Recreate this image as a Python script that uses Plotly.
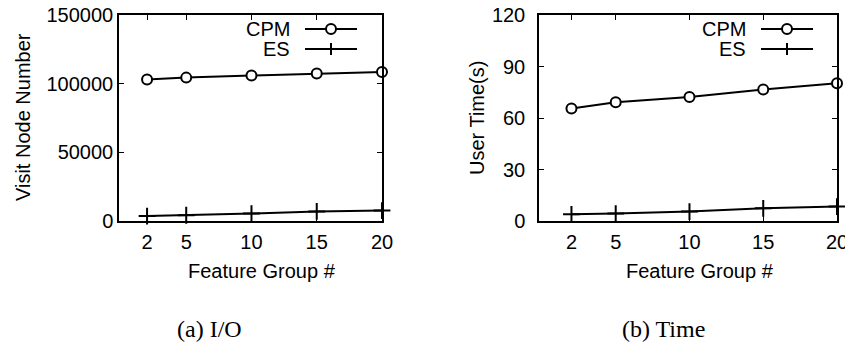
import plotly.graph_objects as go

# The page body has an 8px margin, so the figure is placed at (8, 8) in the window.
OFF = 8
W, H = 853 - OFF, 344 - OFF

feature_groups = [2, 5, 10, 15, 20]
io_cpm = [102960, 104400, 105870, 107330, 108500]
io_es = [3600, 4200, 5400, 7000, 7600]
time_cpm = [65.6, 69.2, 72.3, 76.6, 80.3]
time_es = [3.9, 4.3, 5.5, 7.4, 8.4]

x_ticks = [2, 5, 10, 15, 20]
io_yticks = [0, 50000, 100000, 150000]
time_yticks = [0, 30, 60, 90, 120]

FONT = "Liberation Sans"
FS = 20


def px(x):
    return (x - OFF) / W


def py(y):
    return 1 - (y - OFF) / H


fig = go.Figure()

circle_marker = dict(symbol="circle", size=10, color="white",
                     line=dict(color="black", width=2))
plus_marker = dict(symbol="cross-thin", size=12,
                   line=dict(color="black", width=2), color="black")

for xa, ya, cpm, es in [("x", "y", io_cpm, io_es), ("x2", "y2", time_cpm, time_es)]:
    fig.add_trace(go.Scatter(x=feature_groups, y=es, mode="lines+markers",
                             line=dict(color="black", width=2), marker=plus_marker,
                             xaxis=xa, yaxis=ya, cliponaxis=False, showlegend=False))
    fig.add_trace(go.Scatter(x=feature_groups, y=cpm, mode="lines+markers",
                             line=dict(color="black", width=2), marker=circle_marker,
                             xaxis=xa, yaxis=ya, cliponaxis=False, showlegend=False))

axis_common = dict(showline=True, linecolor="black", linewidth=1.5, mirror="allticks",
                   ticks="inside", ticklen=5, tickcolor="black", tickwidth=1,
                   showgrid=False, zeroline=False, automargin=False, tickformat="d",
                   ticklabeloverflow="allow",
                   tickfont=dict(family=FONT, size=FS, color="black"))

fig.update_layout(
    width=W, height=H, margin=dict(l=0, r=0, t=0, b=0, autoexpand=False),
    paper_bgcolor="white", plot_bgcolor="white",
    xaxis=dict(domain=[px(119), px(382)], range=[-0.15, 20], tickvals=x_ticks,
               ticklabelstandoff=2, anchor="y", **axis_common),
    yaxis=dict(domain=[py(221), py(15)], range=[0, 150000], tickvals=io_yticks,
               ticklabelstandoff=0, anchor="x", **axis_common),
    xaxis2=dict(domain=[px(539), px(837)], range=[-0.2, 20], tickvals=x_ticks,
                ticklabelstandoff=2, anchor="y2", **axis_common),
    yaxis2=dict(domain=[py(221), py(15)], range=[0, 120], tickvals=time_yticks,
                ticklabelstandoff=8, anchor="x2", **axis_common),
)

annotations = [
    dict(text="Feature Group #", x=px(262), y=py(271), xanchor="center", yanchor="middle"),
    dict(text="Feature Group #", x=px(700), y=py(271), xanchor="center", yanchor="middle"),
    dict(text="Visit Node Number", x=px(23), y=py(117), textangle=-90, xanchor="center", yanchor="middle"),
    dict(text="User Time(s)", x=px(477), y=py(118), textangle=-90, xanchor="center", yanchor="middle"),
    dict(text="CPM", x=px(292), y=py(29), xanchor="right", yanchor="middle"),
    dict(text="ES", x=px(292), y=py(49), xanchor="right", yanchor="middle"),
    dict(text="CPM", x=px(748), y=py(29), xanchor="right", yanchor="middle"),
    dict(text="ES", x=px(748), y=py(49), xanchor="right", yanchor="middle"),
]
for a in annotations:
    a.update(xref="paper", yref="paper", showarrow=False,
             font=dict(family=FONT, size=FS, color="black"))
    fig.add_annotation(**a)

for text, cx in [("(a) I/O", 209), ("(b) Time", 663)]:
    fig.add_annotation(text=text, x=px(cx), y=py(329), xref="paper", yref="paper",
                       xanchor="center", yanchor="middle", showarrow=False,
                       font=dict(family="Liberation Serif", size=24, color="black"))

# legend samples (text left, sample right, as in gnuplot)
shapes = []
for x0, x1 in [(305, 357), (761, 813)]:
    cx = (x0 + x1) / 2
    for yy in (29, 49):
        shapes.append(dict(type="line", x0=px(x0), x1=px(x1), y0=py(yy), y1=py(yy),
                           line=dict(color="black", width=2)))
    r = 5
    shapes.append(dict(type="circle", x0=px(cx - r), x1=px(cx + r), y0=py(29 + r), y1=py(29 - r),
                       fillcolor="white", line=dict(color="black", width=2)))
    shapes.append(dict(type="line", x0=px(cx), x1=px(cx), y0=py(49 - 6), y1=py(49 + 6),
                       line=dict(color="black", width=2)))
for s in shapes:
    s.update(xref="paper", yref="paper", layer="above")
    fig.add_shape(**s)

fig.write_html("out.html")
